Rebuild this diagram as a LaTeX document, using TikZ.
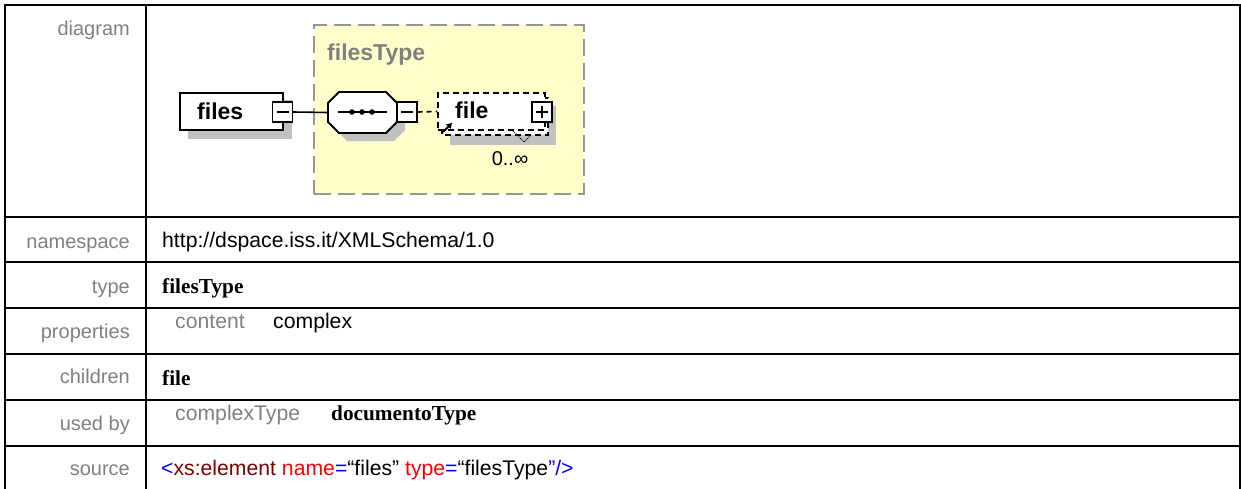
\documentclass[tikz,border=0pt]{standalone}
\usepackage{fontspec}
\setmainfont{Liberation Sans}
\newfontfamily\serifface{Liberation Serif}
\usetikzlibrary{arrows.meta}

\definecolor{labelgray}{RGB}{128,128,128}
\definecolor{shadowgray}{RGB}{192,192,192}
\definecolor{typefill}{RGB}{255,255,204}
\definecolor{typeborder}{RGB}{150,150,150}
\definecolor{xmlblue}{RGB}{0,0,255}
\definecolor{xmldarkred}{RGB}{128,0,0}
\definecolor{xmlred}{RGB}{255,0,0}

\newcommand\lblfont{\fontsize{20}{24}\selectfont}
\newcommand\valfont{\fontsize{21.2}{25}\selectfont}
\newcommand\valbold{\serifface\bfseries\fontsize{21.3}{25}\selectfont}
\newcommand\dgfont{\bfseries\fontsize{23}{26}\selectfont}

\tikzset{
  tline/.style={line width=2pt},
  lbl/.style={anchor=base east, text=labelgray, font=\lblfont, inner sep=0pt},
  val/.style={anchor=base west, font=\valfont, inner sep=0pt},
  valb/.style={anchor=base west, font=\valbold, inner sep=0pt},
  shad/.style={fill=shadowgray, draw=none},
  elbox/.style={draw, line width=1.8pt, fill=white, inner sep=0pt},
  optbox/.style={draw, line width=1.8pt, fill=white, dash pattern=on 6pt off 4pt},
  pmbox/.style={draw, line width=1.4pt, fill=white, minimum size=20pt, inner sep=0pt},
  minussign/.style={path picture={
      \draw[line width=1.4pt] ([xshift=-6pt]path picture bounding box.center)
        -- ([xshift=6pt]path picture bounding box.center);}},
  plussign/.style={path picture={
      \draw[line width=1.4pt] ([xshift=-6pt]path picture bounding box.center)
        -- ([xshift=6pt]path picture bounding box.center);
      \draw[line width=1.4pt] ([yshift=-6pt]path picture bounding box.center)
        -- ([yshift=6pt]path picture bounding box.center);}},
  dgtext/.style={anchor=base west, font=\dgfont, inner sep=0pt},
  link/.style={line width=1.6pt},
}

\begin{document}
\begin{tikzpicture}[x=1pt,y=-1pt]
\useasboundingbox (0,0) rectangle (1241,488);

% ---- table grid ----
\draw[tline] (5,500) -- (5,5) -- (1240,5) -- (1240,500);
\draw[tline] (146,5) -- (146,500);
\foreach \yy in {217,262,308,354,400,446}
  \draw[tline] (5,\yy) -- (1240,\yy);

% ---- row labels ----
\node[lbl] (ldiagram) at (130,35)  {diagram};
\node[lbl] (lns)      at (130,248) {namespace};
\node[lbl] (ltype)    at (130,293) {type};
\node[lbl] (lprops)   at (130,338) {properties};
\node[lbl] (lchild)   at (130,383) {children};
\node[lbl] (lused)    at (130,430) {used by};
\node[lbl] (lsource)  at (130,475) {source};

% ---- row values ----
\node[val]  (vns)    at (162,247) {http://dspace.iss.it/XMLSchema/1.0};
\node[valb] (vtype)  at (162,293) {filesType};
\node[val, text=labelgray] (vcontent) at (175,328) {content};
\node[val]  (vcomplex) at (273,328) {complex};
\node[valb] (vchild) at (162,385) {file};
\node[val, text=labelgray] (vctype) at (175,420) {complexType};
\node[valb] (vdoc)   at (331,420) {documentoType};
\node[val]  (vsrc)   at (161,475) {\textcolor{xmlblue}{<}\textcolor{xmldarkred}{xs:element}
  \textcolor{xmlred}{name}\textcolor{xmlblue}{=}“files”
  \textcolor{xmlred}{type}\textcolor{xmlblue}{=}“filesType\textcolor{xmlblue}{”/>}};

% ---- complex type frame ----
\node[draw=typeborder, fill=typefill, line width=2pt, dash pattern=on 17pt off 7pt,
      minimum width=270pt, minimum height=169pt, inner sep=0pt] (ftype) at (449,109.5) {};
\node[dgtext, text=labelgray] (ftypelbl) at (327,60) {filesType};

% ---- element: files ----
\fill[shad] (188,100) rectangle (292,139);
\node[elbox, minimum width=103pt, minimum height=37pt] (files) at (231.5,111.5) {};
\node[dgtext] (filestxt) at (197,119) {files};
\node[pmbox, minussign] (filesminus) at (282.5,112) {};

% ---- sequence compositor ----
\fill[shad] (347,100) -- (394,100) -- (405,111) -- (405,130) -- (394,141)
  -- (347,141) -- (336,130) -- (336,111) -- cycle;
\draw[line width=1.8pt, fill=white] (339,92) -- (386,92) -- (397,103) -- (397,122)
  -- (386,133) -- (339,133) -- (328,122) -- (328,103) -- cycle;
\node[minimum width=69pt, minimum height=41pt, inner sep=0pt] (seq) at (362.5,112.5) {};
\draw[line width=1.5pt] (338,112) -- (387,112);
\foreach \xx in {352,362,372}
  \fill (\xx,112) circle (2.8pt);
\node[pmbox, minussign] (seqminus) at (407,112) {};

% ---- element: file (optional, repeated, reference) ----
\fill[shad] (450,106) rectangle (556,145);
\draw[optbox] (442,98) rectangle (548,135);
\node[optbox, minimum width=107pt, minimum height=37pt, inner sep=0pt] (file) at (491.5,111.5) {};
\node[dgtext] (filetxt) at (455,118) {file};
\node[pmbox, plussign] (fileplus) at (542,112) {};
\draw[line width=1.8pt, -{Triangle[length=5pt,width=6pt]}] (443,132) -- (452,123);
\draw[line width=1pt, densely dotted] (513,131) -- (524,142) -- (530,136);
\node[anchor=base, font=\fontsize{20}{24}\selectfont, inner sep=0pt] (card) at (510,165) {0..∞};

% ---- connectors ----
\draw[link] (filesminus.east) -- (seq.west);
\draw[link, dash pattern=on 5pt off 4pt] (seqminus.east) -- (file.west);
\end{tikzpicture}
\end{document}
